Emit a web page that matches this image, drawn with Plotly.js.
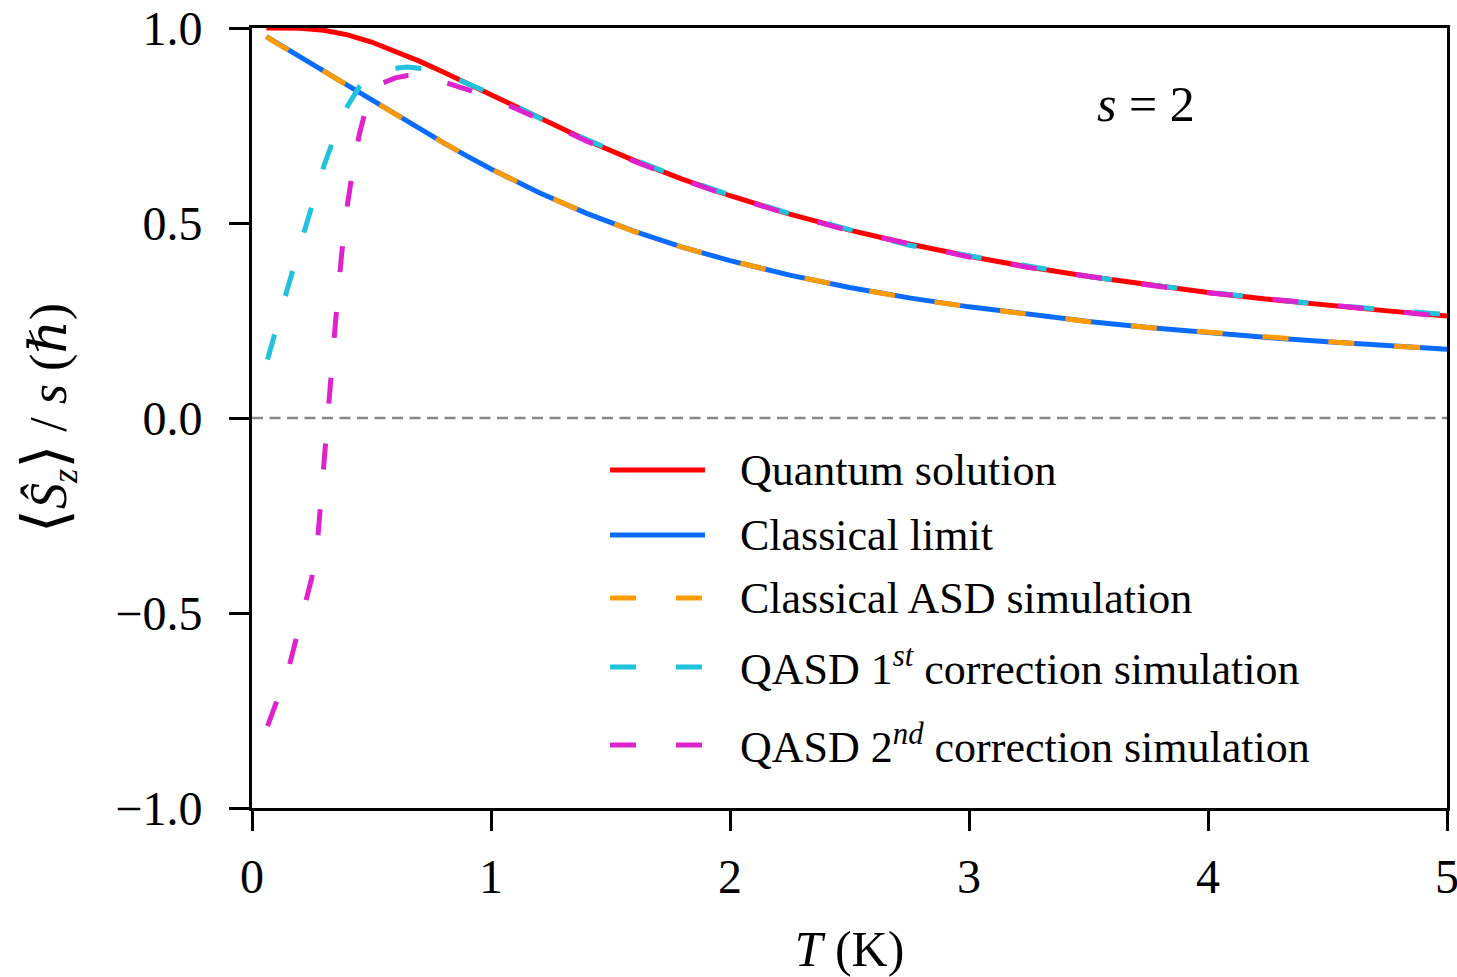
<!DOCTYPE html>
<html>
<head>
<meta charset="utf-8">
<script src="https://cdn.plot.ly/plotly-3.0.1.min.js"></script>
<style>
  html, body { margin: 0; padding: 0; background: #ffffff; }
  #chart { width: 1457px; height: 977px; }
</style>
</head>
<body>
<div id="chart"></div>
<script>
// Temperature grid (K) for the exact curves and the classical simulation
const tempExact = [0.06, 0.1, 0.2, 0.3, 0.4, 0.5, 0.6, 0.7, 0.8, 0.9, 1.0,
  1.2, 1.4, 1.6, 1.8, 2.0, 2.25, 2.5, 2.75, 3.0, 3.25, 3.5, 3.75, 4.0, 4.25, 4.5, 4.75, 5.0];

// <S_z>/s for s = 2
const quantumSolution = [1.0, 1.0, 0.9994, 0.9944, 0.9823, 0.9640, 0.9411, 0.9151, 0.8871, 0.8578, 0.8279,
  0.7687, 0.7122, 0.6600, 0.6126, 0.5699, 0.5228, 0.4818, 0.4461, 0.4147, 0.3871, 0.3629, 0.3412, 0.3219, 0.3046, 0.2889, 0.2747, 0.2618];

const classicalLimit = [0.9778, 0.963, 0.9259, 0.8889, 0.8519, 0.8149, 0.7780, 0.7416, 0.7060, 0.6716, 0.6387,
  0.5780, 0.5247, 0.4783, 0.4381, 0.4034, 0.3662, 0.3348, 0.3080, 0.2850, 0.2650, 0.2475, 0.2321, 0.2185, 0.2064, 0.1954, 0.1855, 0.1765];

const classicalASD = [0.978, 0.962, 0.926, 0.889, 0.852, 0.815, 0.777, 0.742, 0.706, 0.672, 0.639,
  0.578, 0.525, 0.478, 0.438, 0.404, 0.366, 0.335, 0.307, 0.285, 0.266, 0.247, 0.232, 0.219, 0.206, 0.196, 0.185, 0.177];

// Quantum-corrected ASD runs (finer sampling at low temperature)
const tempQASD1 = [0.065, 0.1, 0.15, 0.2, 0.25, 0.3, 0.35, 0.4, 0.45, 0.5, 0.55, 0.6, 0.65, 0.7, 0.75, 0.8, 0.9, 1.0,
  1.2, 1.4, 1.6, 1.8, 2.0, 2.25, 2.5, 2.75, 3.0, 3.25, 3.5, 3.75, 4.0, 4.25, 4.5, 4.75, 5.0];
const qasd1st = [0.15, 0.23, 0.335, 0.44, 0.545, 0.645, 0.73, 0.80, 0.85, 0.875, 0.89, 0.897, 0.90, 0.898, 0.893, 0.884, 0.858, 0.832,
  0.770, 0.714, 0.662, 0.614, 0.572, 0.524, 0.483, 0.443, 0.416, 0.389, 0.363, 0.342, 0.323, 0.305, 0.290, 0.276, 0.265];

const tempQASD2 = [0.065, 0.1, 0.15, 0.2, 0.25, 0.275, 0.3, 0.325, 0.35, 0.375, 0.4, 0.425, 0.45, 0.48, 0.5, 0.55, 0.6, 0.65, 0.7, 0.75, 0.8, 0.9, 1.0,
  1.2, 1.4, 1.6, 1.8, 2.0, 2.25, 2.5, 2.75, 3.0, 3.25, 3.5, 3.75, 4.0, 4.25, 4.5, 4.75, 5.0];
const qasd2nd = [-0.79, -0.735, -0.65, -0.53, -0.41, -0.31, -0.12, 0.08, 0.25, 0.42, 0.55, 0.65, 0.73, 0.80, 0.83, 0.86, 0.872, 0.878, 0.879, 0.872, 0.862, 0.84, 0.822,
  0.767, 0.710, 0.658, 0.611, 0.569, 0.522, 0.480, 0.447, 0.413, 0.386, 0.362, 0.341, 0.321, 0.305, 0.288, 0.275, 0.260];

const seriesNames = ['Quantum solution', 'Classical limit', 'Classical ASD simulation',
  'QASD 1<sup><i>st</i></sup> correction simulation', 'QASD 2<sup><i>nd</i></sup> correction simulation'];
const seriesColors = ['#ff0000', '#0a6cff', '#ff9a00', '#20c2dc', '#de22cc'];

const xTickVals = [0, 1, 2, 3, 4, 5];
const xTickText = ['0', '1', '2', '3', '4', '5'];
const yTickVals = [-1, -0.5, 0, 0.5, 1];
const yTickText = ['\u22121.0', '\u22120.5', '0.0', '0.5', '1.0'];

const serif = '"Liberation Serif", "Times New Roman", "DejaVu Serif", serif';
const DASH = '26px,40px';

const traces = [
  { x: tempExact, y: quantumSolution, name: seriesNames[0], mode: 'lines',
    line: { color: seriesColors[0], width: 5 } },
  { x: tempExact, y: classicalLimit, name: seriesNames[1], mode: 'lines',
    line: { color: seriesColors[1], width: 5 } },
  { x: tempExact, y: classicalASD, name: seriesNames[2], mode: 'lines',
    line: { color: seriesColors[2], width: 5, dash: DASH } },
  { x: tempQASD1, y: qasd1st, name: seriesNames[3], mode: 'lines',
    line: { color: seriesColors[3], width: 5, dash: DASH } },
  { x: tempQASD2, y: qasd2nd, name: seriesNames[4], mode: 'lines',
    line: { color: seriesColors[4], width: 5, dash: DASH } }
];

// Hand-placed legend: sample line + label per series
const legendRowsY = [0.4333, 0.35, 0.2692, 0.1808, 0.0808];
const legendLineX = [0.2996, 0.3791];
const legendTextX = 0.4067;
const shapes = [
  { type: 'line', xref: 'paper', yref: 'y', x0: 0, x1: 1, y0: 0, y1: 0,
    line: { color: '#888888', width: 2.5, dash: '11px,6.5px' }, layer: 'below' }
];
const annotations = [];
seriesNames.forEach((name, i) => {
  shapes.push({ type: 'line', xref: 'paper', yref: 'paper',
    x0: legendLineX[0], x1: legendLineX[1], y0: legendRowsY[i], y1: legendRowsY[i],
    line: { color: seriesColors[i], width: 5, dash: i >= 2 ? DASH : 'solid' } });
  annotations.push({ xref: 'paper', yref: 'paper', x: legendTextX, y: legendRowsY[i],
    xanchor: 'left', yanchor: 'middle', showarrow: false, text: name,
    font: { family: serif, size: 44, color: '#000' } });
});
annotations.push({ xref: 'x', yref: 'y', x: 3.74, y: 0.805, showarrow: false,
  xanchor: 'center', yanchor: 'middle', text: '<i>s</i> = 2',
  font: { family: serif, size: 50, color: '#000' } });

const layout = {
  width: 1457, height: 977,
  margin: { l: 252, r: 10, t: 28, b: 169, pad: 0 },
  paper_bgcolor: '#ffffff', plot_bgcolor: '#ffffff',
  showlegend: false,
  font: { family: serif, size: 48, color: '#000' },
  xaxis: {
    range: [0, 5], tickvals: xTickVals, ticktext: xTickText,
    showgrid: false, zeroline: false,
    showline: true, mirror: true, linecolor: '#000', linewidth: 3,
    ticks: 'outside', ticklen: 20, tickwidth: 3, tickcolor: '#000',
    ticklabeloverflow: 'allow', ticklabelstandoff: 4,
    tickfont: { family: serif, size: 48 },
    title: { text: '<i>T</i> (K)', font: { family: serif, size: 50 }, standoff: 36 }
  },
  yaxis: {
    range: [-1, 1], tickvals: yTickVals, ticktext: yTickText,
    showgrid: false, zeroline: false,
    showline: true, mirror: true, linecolor: '#000', linewidth: 3,
    ticks: 'outside', ticklen: 20, tickwidth: 3, tickcolor: '#000',
    ticklabeloverflow: 'allow', ticklabelstandoff: 17,
    tickfont: { family: serif, size: 48 },
    title: { text: '<span style="font-size:62px">\u27E8</span><i>\u015C</i><sub><i>z</i></sub><span style="font-size:62px">\u27E9</span> / <i>s</i> (\u210F)',
      font: { family: serif, size: 52 }, standoff: 33 }
  },
  shapes: shapes,
  annotations: annotations
};

Plotly.newPlot('chart', traces, layout, { displayModeBar: false, staticPlot: true });
</script>
</body>
</html>
